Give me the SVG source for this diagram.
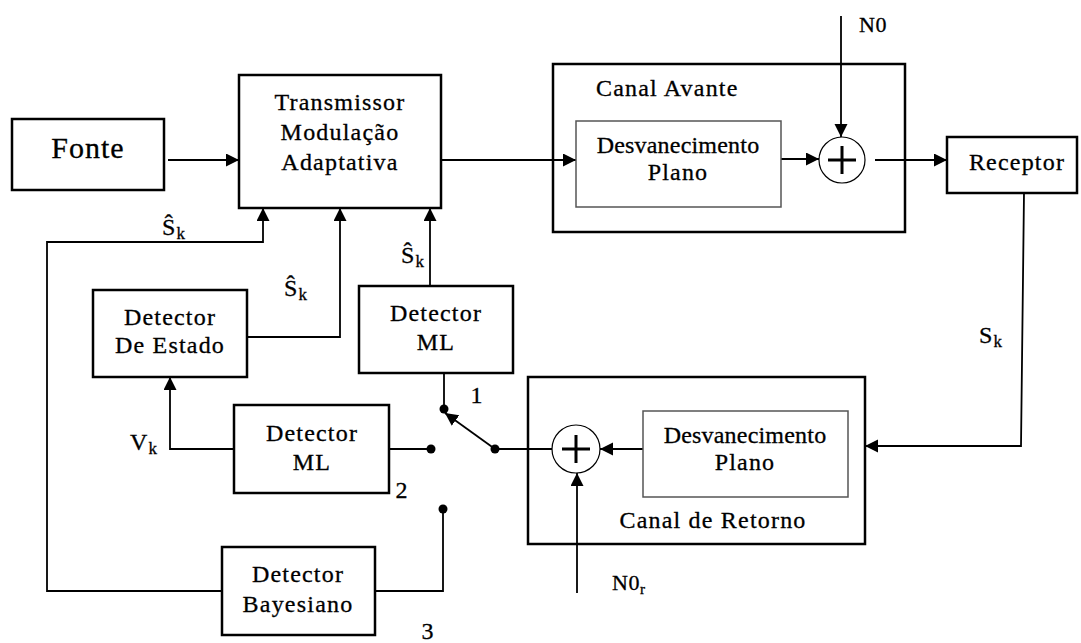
<svg xmlns="http://www.w3.org/2000/svg" width="1081" height="643" viewBox="0 0 1081 643" font-family="'Liberation Serif', 'Times New Roman', serif">
<defs>
<marker id="ah" markerUnits="userSpaceOnUse" markerWidth="14" markerHeight="14" refX="13" refY="6.5" orient="auto">
<path d="M0,0 L13,6.5 L0,13 z" fill="#000"/>
</marker>
</defs>
<style>
.box{fill:#fff;stroke:#000;stroke-width:2.5}
.frame{fill:none;stroke:#000;stroke-width:2.5}
.inner{fill:#fff;stroke:#555;stroke-width:1.5}
.ln{fill:none;stroke:#000;stroke-width:1.8}
.arr{fill:none;stroke:#000;stroke-width:1.8;marker-end:url(#ah)}
text{font-family:'Liberation Serif','Times New Roman',serif;font-size:24px;fill:#000;stroke:#000;stroke-width:0.3;letter-spacing:1.2px}
.c{text-anchor:middle}
.dv{letter-spacing:0.2px}
.sub{font-size:17px;letter-spacing:0}
.sum{fill:#fff;stroke:#000;stroke-width:1.2}
.plus{stroke:#000;stroke-width:3}
.dot{fill:#000}
</style>
<rect width="1081" height="643" fill="#fff"/>

<g id="canal-avante">
<rect class="frame" x="553" y="64" width="352" height="168"/>
<text x="596" y="96">Canal Avante</text>
</g>

<g id="canal-retorno">
<rect class="frame" x="528" y="377" width="337" height="167"/>
<text class="c" x="713" y="528">Canal de Retorno</text>
</g>

<g id="connectors">
<path class="arr" d="M168,160 L239,160"/>
<path class="arr" d="M441,160 L576,160"/>
<path class="arr" d="M781,159 L819,159"/>
<path class="arr" d="M841,16 L841,137"/>
<path class="arr" d="M875,160 L947,160"/>
<path class="arr" d="M1024,193 L1021,446 L865,446"/>
<path class="arr" d="M643,449 L600,449"/>
<path class="arr" d="M577,593 L577,473"/>
<path class="ln" d="M495,449 L552,449"/>
<path class="arr" d="M495,449 L445,413"/>
<path class="ln" d="M444,373 L444,409"/>
<path class="ln" d="M389,449 L431,449"/>
<path class="arr" d="M234,449 L170,449 L170,377"/>
<path class="ln" d="M443,509 L443,591 L375,591"/>
<path class="arr" d="M222,591 L47,591 L47,242 L263,242 L263,208"/>
<path class="arr" d="M247,337 L340,337 L340,208"/>
<path class="arr" d="M430,286 L430,208"/>
<circle class="dot" cx="444" cy="409" r="4.5"/>
<circle class="dot" cx="431" cy="449" r="4.5"/>
<circle class="dot" cx="495" cy="449" r="4.5"/>
<circle class="dot" cx="443" cy="509" r="4.5"/>
</g>

<g id="fonte">
<rect class="box" x="12" y="119" width="152" height="71"/>
<text class="c" x="88" y="158" style="font-size:30px;letter-spacing:1px">Fonte</text>
</g>

<g id="transmissor">
<rect class="box" x="239" y="75" width="202" height="133"/>
<text class="c" x="340" y="110">Transmissor</text>
<text class="c" x="340" y="140">Modulação</text>
<text class="c" x="340" y="170">Adaptativa</text>
</g>

<g id="desvanecimento-avante">
<rect class="inner" x="576" y="121" width="205" height="86"/>
<text class="c dv" x="678" y="153">Desvanecimento</text>
<text class="c" x="678" y="180">Plano</text>
</g>

<g id="soma-avante">
<circle class="sum" cx="842" cy="160" r="23"/>
<path class="plus" d="M828,160 L856,160 M842,146 L842,174"/>
</g>

<g id="n0">
<text x="859" y="32" style="font-size:22px;letter-spacing:0.5px">N0</text>
</g>

<g id="receptor">
<rect class="box" x="947" y="137" width="130" height="56"/>
<text class="c" x="1017" y="170">Receptor</text>
</g>

<g id="sk-label">
<text x="979" y="343">S<tspan class="sub" dy="4">k</tspan></text>
</g>

<g id="desvanecimento-retorno">
<rect class="inner" x="643" y="411" width="205" height="86"/>
<text class="c dv" x="745" y="443">Desvanecimento</text>
<text class="c" x="745" y="470">Plano</text>
</g>

<g id="soma-retorno">
<circle class="sum" cx="576" cy="449" r="24"/>
<path class="plus" d="M562,449 L590,449 M576,435 L576,463"/>
</g>

<g id="n0r">
<text x="612" y="590" style="font-size:22px;letter-spacing:0.5px">N0<tspan dy="4" style="font-size:15px">r</tspan></text>
</g>

<g id="detector-estado">
<rect class="box" x="93" y="290" width="154" height="87"/>
<text class="c" x="170" y="325">Detector</text>
<text class="c" x="170" y="353">De Estado</text>
</g>

<g id="detector-ml-1">
<rect class="box" x="359" y="286" width="154" height="87"/>
<text class="c" x="436" y="321">Detector</text>
<text class="c" x="436" y="350">ML</text>
</g>

<g id="detector-ml-2">
<rect class="box" x="234" y="405" width="155" height="88"/>
<text class="c" x="312" y="441">Detector</text>
<text class="c" x="312" y="470">ML</text>
</g>

<g id="detector-bayesiano">
<rect class="box" x="222" y="547" width="153" height="88"/>
<text class="c" x="298" y="582">Detector</text>
<text class="c" x="298" y="612">Bayesiano</text>
</g>

<g id="labels">
<text x="162" y="235">Ŝ<tspan class="sub" dy="4">k</tspan></text>
<text x="284" y="296">Ŝ<tspan class="sub" dy="4">k</tspan></text>
<text x="401" y="263">Ŝ<tspan class="sub" dy="4">k</tspan></text>
<text x="130" y="450">V<tspan class="sub" dy="4">k</tspan></text>
<text class="c" x="477" y="403">1</text>
<text class="c" x="402" y="498">2</text>
<text class="c" x="428" y="639">3</text>
</g>
</svg>
